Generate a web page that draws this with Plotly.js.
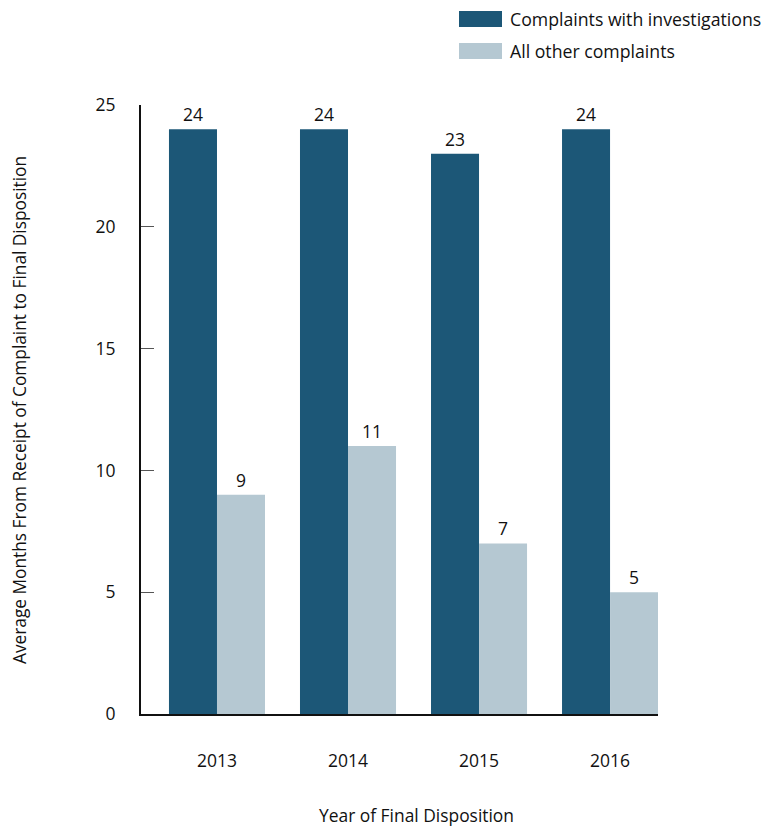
<!DOCTYPE html>
<html>
<head>
<meta charset="utf-8">
<script src="https://cdn.plot.ly/plotly-3.0.1.min.js"></script>
<style>html,body{margin:0;padding:0;background:#fff;}#chart{width:762px;height:827px;}</style>
</head>
<body>
<div id="chart"></div>
<script>
const years = ['2013', '2014', '2015', '2016'];
const seriesNames = ['Complaints with investigations', 'All other complaints'];
const withInvestigations = [24, 24, 23, 24];
const allOther = [9, 11, 7, 5];
const yTicks = [0, 5, 10, 15, 20, 25];
const xTitle = 'Year of Final Disposition';
const yTitle = 'Average Months From Receipt of Complaint to Final Disposition';

const colors = ['#1c5777', '#b5c8d2'];
const FONT = 'Open Sans, Noto Sans, sans-serif';
const W = 762, H = 827;
const L = 141, R = 104, T = 105, B = 113;
const pw = W - L - R, ph = H - T - B;
const px = x => (x - L) / pw;
const py = y => (H - B - y) / ph;

const traces = [withInvestigations, allOther].map((vals, i) => ({
  type: 'bar',
  name: seriesNames[i],
  x: years,
  y: vals,
  text: vals.map(String),
  textposition: 'outside',
  textfont: {family: FONT, size: 17.5, color: '#111'},
  cliponaxis: false,
  marker: {color: colors[i], line: {width: 0}},
  hoverinfo: 'x+y'
}));

const legendRows = [19, 51];
const shapes = [];
const annotations = [];
seriesNames.forEach((n, i) => {
  const cy = legendRows[i];
  shapes.push({type: 'rect', xref: 'paper', yref: 'paper',
    x0: px(459), x1: px(502), y0: py(cy - 8), y1: py(cy + 8),
    fillcolor: colors[i], line: {width: 0}});
  annotations.push({xref: 'paper', yref: 'paper', x: px(508), y: py(cy),
    xanchor: 'left', yanchor: 'middle', text: n, showarrow: false,
    font: {family: FONT, size: 17.7, color: '#111'}});
});
annotations.push({xref: 'paper', yref: 'paper', x: px(416), y: py(815),
  xanchor: 'center', yanchor: 'middle', text: xTitle, showarrow: false,
  font: {family: FONT, size: 17.4, color: '#111'}});
annotations.push({xref: 'paper', yref: 'paper', x: px(20), y: py(410),
  xanchor: 'center', yanchor: 'middle', text: yTitle, showarrow: false, textangle: -90,
  font: {family: FONT, size: 17.3, color: '#111'}});

const layout = {
  width: W, height: H,
  margin: {l: L, r: R, t: T, b: B, pad: 0},
  paper_bgcolor: '#fff', plot_bgcolor: '#fff',
  showlegend: false,
  barmode: 'group',
  bargap: 0.267,
  bargroupgap: 0,
  font: {family: FONT, size: 17, color: '#111'},
  xaxis: {
    type: 'category',
    range: [-0.58, 3.366],
    showline: true, linecolor: '#111', linewidth: 2,
    ticks: '', showgrid: false, zeroline: false,
    ticklabelstandoff: 30,
    tickfont: {family: FONT, size: 17.5, color: '#111'}
  },
  yaxis: {
    range: [0, 25],
    tickvals: yTicks,
    ticktext: yTicks.map(String),
    showline: true, linecolor: '#111', linewidth: 2,
    ticks: 'inside', ticklen: 13, tickcolor: '#555', tickwidth: 1,
    showgrid: false, zeroline: false,
    ticklabelstandoff: 20,
    tickfont: {family: FONT, size: 17.5, color: '#111'}
  },
  shapes: shapes,
  annotations: annotations
};

Plotly.newPlot('chart', traces, layout, {displayModeBar: false, staticPlot: true});
</script>
</body>
</html>
